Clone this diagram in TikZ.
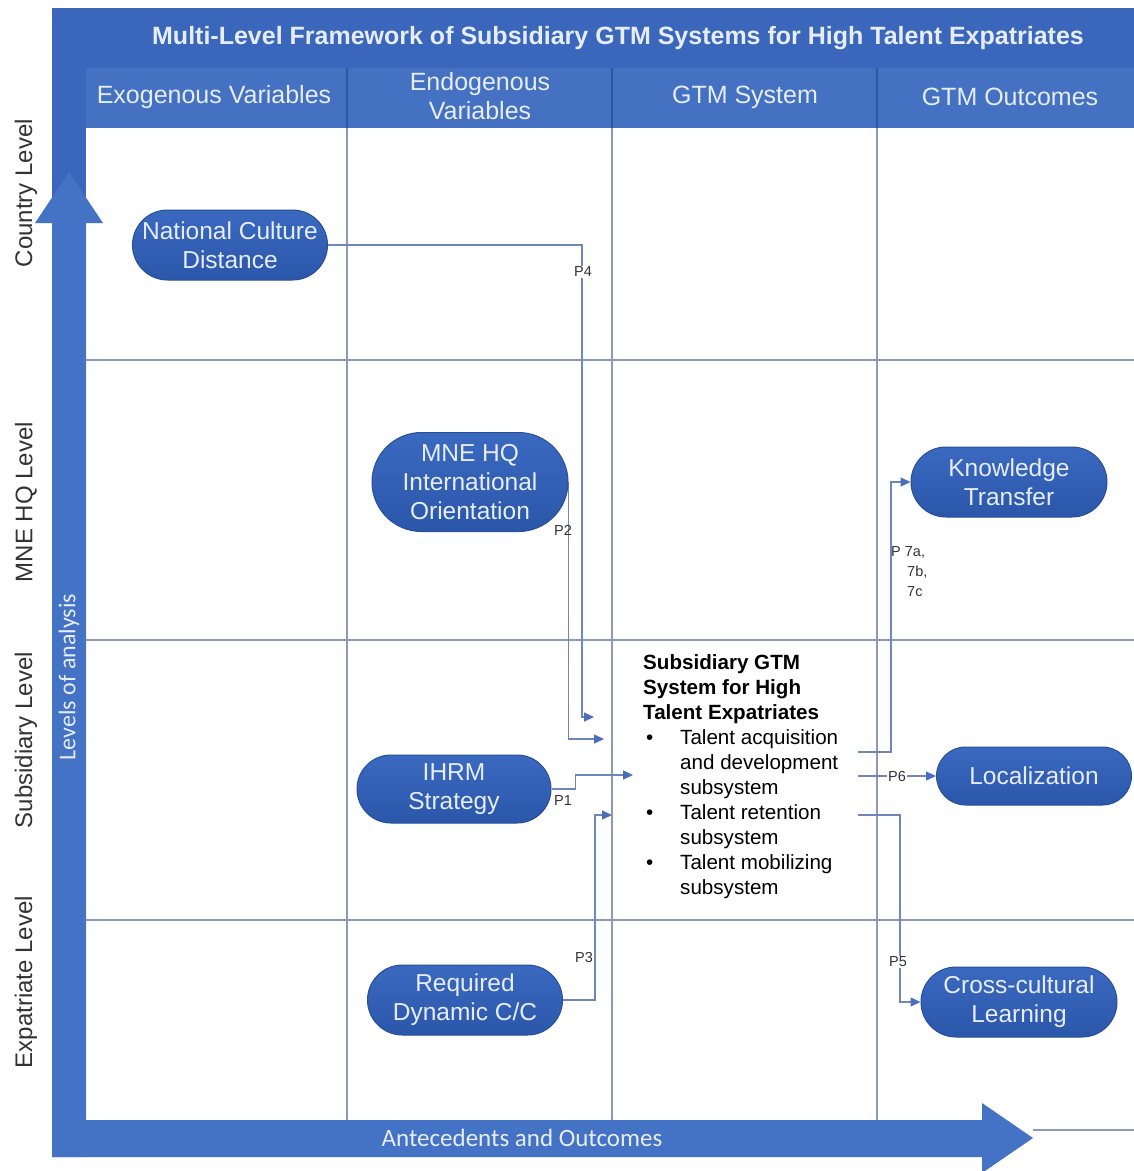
\documentclass[tikz,border=0pt]{standalone}
\usepackage{fontspec}
\setmainfont{Liberation Sans}
\newfontfamily\condfont{Carlito}
\usetikzlibrary{shapes.misc,arrows.meta,calc}

\definecolor{axisblue}{HTML}{4472C4}
\definecolor{bandblue}{HTML}{3A67BB}
\definecolor{headblue}{HTML}{4471C2}
\definecolor{headrule}{HTML}{2F569E}
\definecolor{nodetop}{HTML}{3A69C0}
\definecolor{nodebot}{HTML}{2B57AA}
\definecolor{nodeedge}{HTML}{284F98}
\definecolor{gridline}{HTML}{8E99B3}
\definecolor{linkblue}{HTML}{6F86BA}
\definecolor{tipblue}{HTML}{4A6EBD}
\definecolor{paletext}{HTML}{E6EDF9}
\definecolor{labeltext}{HTML}{333333}

\pgfdeclarelayer{back}
\pgfdeclarelayer{links}
\pgfsetlayers{back,links,main}

\tikzset{
  pill/.style={rounded rectangle, top color=nodetop, bottom color=nodebot,
    draw=nodeedge, line width=1pt, text=paletext, align=center,
    font=\fontsize{24.5}{29}\selectfont, inner sep=0pt,
    minimum width=195pt, minimum height=70pt},
  link/.style={draw=linkblue, line width=1.3pt,
    -{Triangle[length=10pt,width=9pt,color=tipblue]}},
  plabel/.style={font=\fontsize{14.5}{18}\selectfont, text=labeltext,
    fill=white, inner sep=1pt},
  colhead/.style={text=paletext, align=center, font=\fontsize{25}{29}\selectfont},
  rowlabel/.style={rotate=90, text=labeltext, font=\fontsize{24}{28}\selectfont},
  gridrule/.style={draw=gridline, line width=1.5pt},
}

\begin{document}
\begin{tikzpicture}[x=1pt,y=-1pt]
\useasboundingbox (0,0) rectangle (1134,1171);

% ---------- frame, grid and axes ----------
\begin{pgfonlayer}{back}
  \fill[white] (0,0) rectangle (1134,1171);
  % title band and column header row
  \fill[bandblue] (52,8) rectangle (1134,68);
  \fill[headblue] (82,68) rectangle (1134,128);
  \fill[bandblue] (52,68) rectangle (86,240);
  \foreach \x in {347,612,877}
    \draw[headrule, line width=1.5pt] (\x,68) -- (\x,128);
  % grid lines
  \foreach \x in {347,612,877}
    \draw[gridrule] (\x,128) -- (\x,1120);
  \foreach \y in {360,640,920}
    \draw[gridrule] (86,\y) -- (1134,\y);
  \draw[gridrule] (1033,1130) -- (1134,1130);
  % vertical axis arrow
  \fill[axisblue] (52,1157) -- (52,223) -- (35,223) -- (69,172) -- (103,223)
    -- (86,223) -- (86,1157) -- cycle;
  % horizontal axis arrow
  \fill[axisblue] (52,1120) -- (982,1120) -- (982,1103) -- (1033,1138)
    -- (982,1173) -- (982,1157) -- (52,1157) -- cycle;
\end{pgfonlayer}

% ---------- headings ----------
\node[text=paletext, font=\bfseries\fontsize{25}{28}\selectfont] (title)
  at (618,38) {Multi-Level Framework of Subsidiary GTM Systems for High Talent Expatriates};
\node[colhead] (hexo) at (214,97) {Exogenous Variables};
\node[colhead] (hendo) at (480,96) {Endogenous\\Variables};
\node[colhead] (hsys) at (745,97) {GTM System};
\node[colhead] (hout) at (1010,97) {GTM Outcomes};

\node[rowlabel] (rcountry) at (26,193) {Country Level};
\node[rowlabel] (rmne) at (26,502) {MNE HQ Level};
\node[rowlabel] (rsub) at (26,740) {Subsidiary Level};
\node[rowlabel] (rexp) at (26,982) {Expatriate Level};

\node[rotate=90, text=paletext, font=\condfont\fontsize{24}{28}\selectfont] (vaxis)
  at (69,677) {Levels of analysis};
\node[text=paletext, font=\condfont\fontsize{25}{29}\selectfont] (haxis)
  at (522,1138) {Antecedents and Outcomes};

% ---------- variables and outcomes ----------
\node[pill] (ncd) at (230,245) {National Culture\\Distance};
\node[pill, minimum width=196pt, minimum height=99pt] (mne) at (470,482)
  {MNE HQ\\International\\Orientation};
\node[pill, minimum width=194pt, minimum height=68pt] (ihrm) at (454,789) {IHRM\\Strategy};
\node[pill] (rdc) at (465,1000) {Required\\Dynamic C/C};
\node[pill, minimum width=196pt] (kt) at (1009,482) {Knowledge\\Transfer};
\node[pill, minimum height=58pt] (loc) at (1034,776) {Localization};
\node[pill, minimum width=196pt] (ccl) at (1019,1002) {Cross-cultural\\Learning};

% ---------- the GTM system ----------
\node[anchor=north west, inner sep=0pt, align=left, text=black,
      font=\fontsize{20.6}{25}\selectfont] (gtm) at (643,654)
{\textbf{Subsidiary GTM}\\
 \textbf{System for High}\\
 \textbf{Talent Expatriates}\\
 \makebox[37pt][l]{\hspace{3pt}\textbullet}Talent acquisition\\
 \hspace*{37pt}and development\\
 \hspace*{37pt}subsystem\\
 \makebox[37pt][l]{\hspace{3pt}\textbullet}Talent retention\\
 \hspace*{37pt}subsystem\\
 \makebox[37pt][l]{\hspace{3pt}\textbullet}Talent mobilizing\\
 \hspace*{37pt}subsystem};

% connector ends at the GTM system block
\coordinate (p4end) at (594,717);
\coordinate (p2end) at (604,739);
\coordinate (p1end) at (633,775);
\coordinate (p3end) at (612,815);
\coordinate (p7start) at (858,752);
\coordinate (p6start) at (858,776);
\coordinate (p5start) at (858,815);

% ---------- propositions ----------
\begin{pgfonlayer}{links}
  \draw[link] (ncd.east) -| ($(p4end)+(-12,0)$) -- (p4end);
  \draw[link] (mne.east) |- (p2end);
  \draw[link] (ihrm.east) -- ++(24,0) |- (p1end);
  \draw[link] (rdc.east) -- ++(32,0) |- (p3end);
  \draw[link] (p7start) -- (891,752) |- (kt.west);
  \draw[link] (p6start) -- (loc.west);
  \draw[link] (p5start) -- (900,815) |- (ccl.west);
\end{pgfonlayer}

\node[plabel] (lp4) at (583,272) {P4};
\node[plabel, fill=none] (lp2) at (563,530) {P2};
\node[plabel, fill=none] (lp1) at (563,801) {P1};
\node[plabel] (lp3) at (584,957) {P3};
\node[plabel] (lp6) at (897,776) {P6};
\node[plabel] (lp5) at (898,962) {P5};
\node[plabel, fill=none, anchor=north west, align=left,
      font=\fontsize{14.5}{20}\selectfont] (lp7) at (890,545)
  {P 7a,\\\hspace*{16pt}7b,\\\hspace*{16pt}7c};
\end{tikzpicture}
\end{document}
